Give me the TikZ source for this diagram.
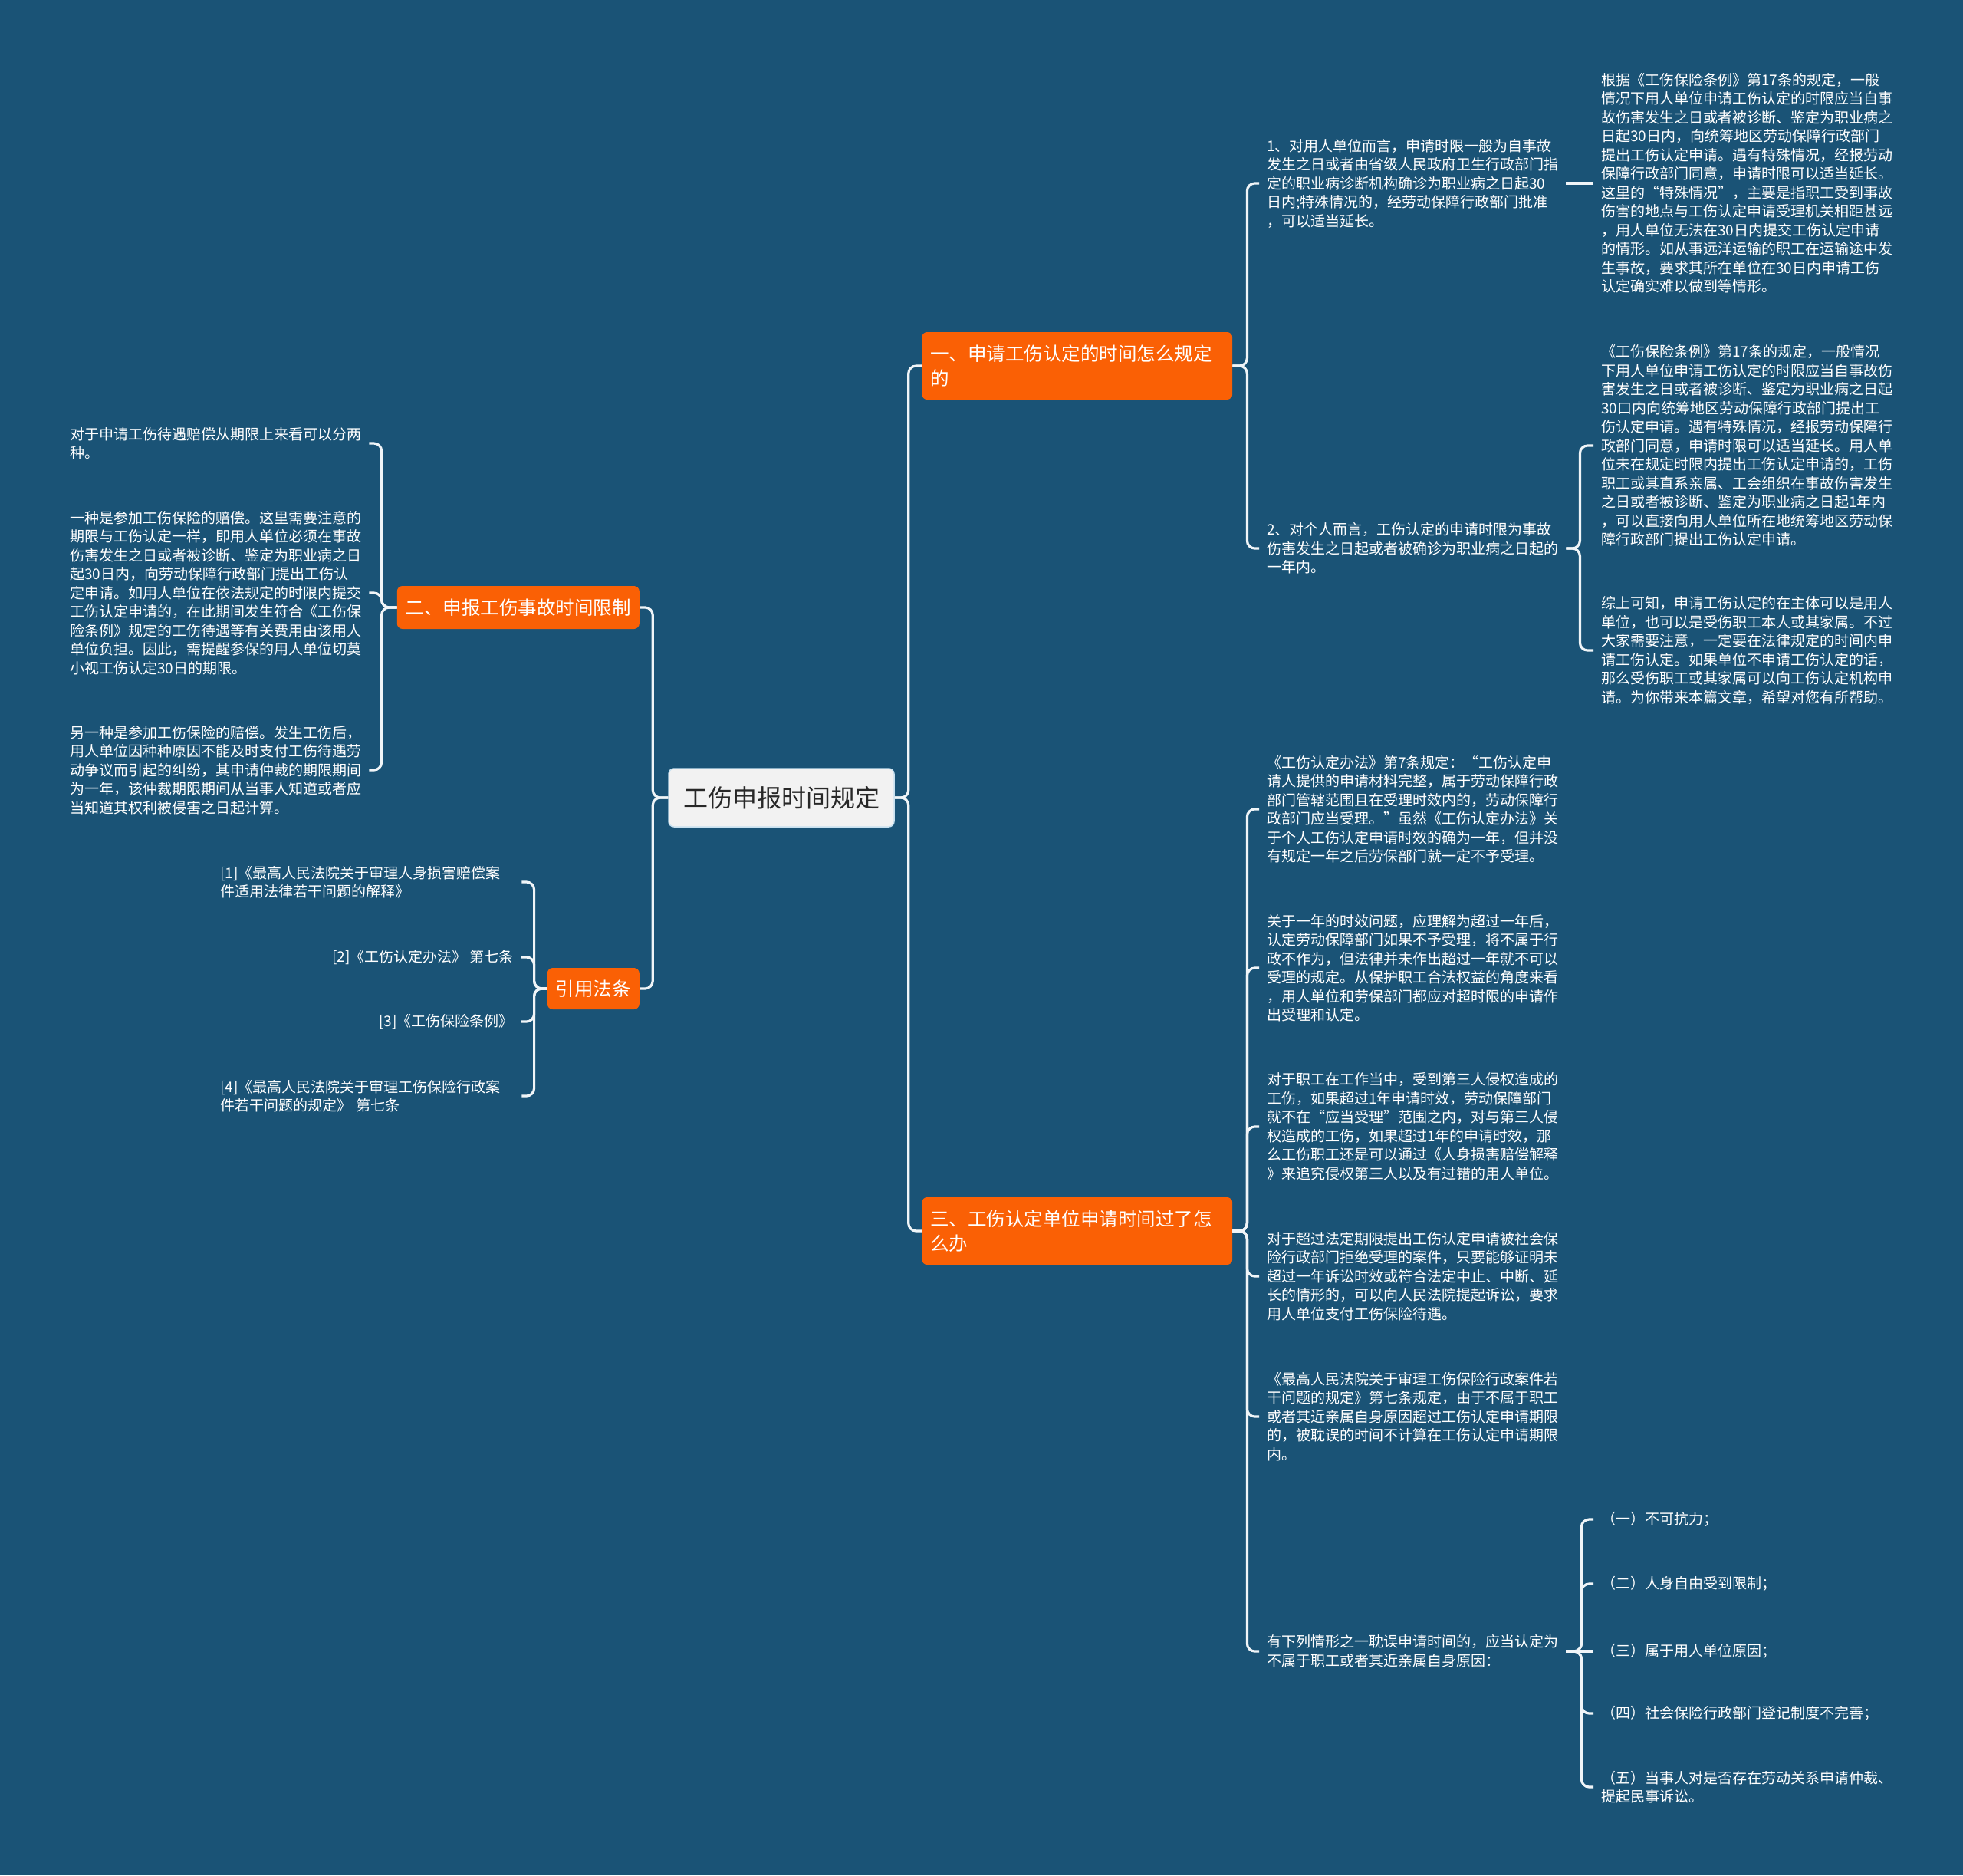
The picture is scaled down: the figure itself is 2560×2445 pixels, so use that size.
\documentclass[tikz,border=0pt]{standalone}
\usepackage{fontspec}
\newfontfamily\cjk{Noto Sans CJK SC}
\definecolor{bg}{RGB}{26,83,118}
\definecolor{brorange}{RGB}{250,96,5}
\definecolor{rootfill}{RGB}{242,242,242}
\definecolor{roottext}{RGB}{40,40,40}
\definecolor{rootline}{RGB}{200,225,240}
\definecolor{lineclr}{RGB}{240,245,248}
\begin{document}
\begin{tikzpicture}[x=1pt,y=-1pt,
  conn/.style={draw=lineclr, line width=3.2pt, rounded corners=10pt},
  leaftext/.style={font=\cjk\fontsize{19}{24.5}\selectfont, text=white, align=left, inner xsep=10pt, inner ysep=2pt},
  brbox/.style={fill=brorange, rounded corners=7pt, text=white, font=\cjk\fontsize{24.5}{32}\selectfont, align=left, inner xsep=11pt, inner ysep=0pt},
  rootbox/.style={fill=rootfill, draw=rootline, line width=1.5pt, rounded corners=7pt, text=roottext, font=\cjk\fontsize{32}{38}\selectfont, minimum width=294pt, minimum height=76pt, inner sep=0pt}]
\fill[bg] (0,0) rectangle (2560,2445);
\useasboundingbox (0,0) rectangle (2560,2445);

% root and branches
\node[rootbox] (root) at (1019,1040) {工伤申报时间规定};
\node[brbox, text width=383pt, minimum height=88pt, anchor=west] (b1) at (1202,477) {一、申请工伤认定的时间怎么规定\\的};
\node[brbox, text width=383pt, minimum height=88pt, anchor=west] (b3) at (1202,1605) {三、工伤认定单位申请时间过了怎\\么办};
\node[brbox, minimum height=56pt, anchor=east] (b2) at (834,792) {二、申报工伤事故时间限制};
\node[brbox, minimum height=54pt, anchor=east] (b4) at (834,1289) {引用法条};

% branch 1 leaves
\node[leaftext, anchor=west] (c1a) at (1642,239) {1、对用人单位而言，申请时限一般为自事故\\发生之日或者由省级人民政府卫生行政部门指\\定的职业病诊断机构确诊为职业病之日起30\\日内;特殊情况的，经劳动保障行政部门批准\\，可以适当延长。};
\node[leaftext, anchor=west] (r1a) at (2078,239) {根据《工伤保险条例》第17条的规定，一般\\情况下用人单位申请工伤认定的时限应当自事\\故伤害发生之日或者被诊断、鉴定为职业病之\\日起30日内，向统筹地区劳动保障行政部门\\提出工伤认定申请。遇有特殊情况，经报劳动\\保障行政部门同意，申请时限可以适当延长。\\这里的“特殊情况”，主要是指职工受到事故\\伤害的地点与工伤认定申请受理机关相距甚远\\，用人单位无法在30日内提交工伤认定申请\\的情形。如从事远洋运输的职工在运输途中发\\生事故，要求其所在单位在30日内申请工伤\\认定确实难以做到等情形。};
\node[leaftext, anchor=west] (c1b) at (1642,715) {2、对个人而言，工伤认定的申请时限为事故\\伤害发生之日起或者被确诊为职业病之日起的\\一年内。};
\node[leaftext, anchor=west] (r1b1) at (2078,581) {《工伤保险条例》第17条的规定，一般情况\\下用人单位申请工伤认定的时限应当自事故伤\\害发生之日或者被诊断、鉴定为职业病之日起\\30口内向统筹地区劳动保障行政部门提出工\\伤认定申请。遇有特殊情况，经报劳动保障行\\政部门同意，申请时限可以适当延长。用人单\\位未在规定时限内提出工伤认定申请的，工伤\\职工或其直系亲属、工会组织在事故伤害发生\\之日或者被诊断、鉴定为职业病之日起1年内\\，可以直接向用人单位所在地统筹地区劳动保\\障行政部门提出工伤认定申请。};
\node[leaftext, anchor=west] (r1b2) at (2078,848) {综上可知，申请工伤认定的在主体可以是用人\\单位，也可以是受伤职工本人或其家属。不过\\大家需要注意，一定要在法律规定的时间内申\\请工伤认定。如果单位不申请工伤认定的话，\\那么受伤职工或其家属可以向工伤认定机构申\\请。为你带来本篇文章，希望对您有所帮助。};

% branch 3 leaves
\node[leaftext, anchor=west] (c3a) at (1642,1055) {《工伤认定办法》第7条规定：“工伤认定申\\请人提供的申请材料完整，属于劳动保障行政\\部门管辖范围且在受理时效内的，劳动保障行\\政部门应当受理。”虽然《工伤认定办法》关\\于个人工伤认定申请时效的确为一年，但并没\\有规定一年之后劳保部门就一定不予受理。};
\node[leaftext, anchor=west] (c3b) at (1642,1262) {关于一年的时效问题，应理解为超过一年后，\\认定劳动保障部门如果不予受理，将不属于行\\政不作为，但法律并未作出超过一年就不可以\\受理的规定。从保护职工合法权益的角度来看\\，用人单位和劳保部门都应对超时限的申请作\\出受理和认定。};
\node[leaftext, anchor=west] (c3c) at (1642,1469) {对于职工在工作当中，受到第三人侵权造成的\\工伤，如果超过1年申请时效，劳动保障部门\\就不在“应当受理”范围之内，对与第三人侵\\权造成的工伤，如果超过1年的申请时效，那\\么工伤职工还是可以通过《人身损害赔偿解释\\》来追究侵权第三人以及有过错的用人单位。};
\node[leaftext, anchor=west] (c3d) at (1642,1664) {对于超过法定期限提出工伤认定申请被社会保\\险行政部门拒绝受理的案件，只要能够证明未\\超过一年诉讼时效或符合法定中止、中断、延\\长的情形的，可以向人民法院提起诉讼，要求\\用人单位支付工伤保险待遇。};
\node[leaftext, anchor=west] (c3e) at (1642,1847) {《最高人民法院关于审理工伤保险行政案件若\\干问题的规定》第七条规定，由于不属于职工\\或者其近亲属自身原因超过工伤认定申请期限\\的，被耽误的时间不计算在工伤认定申请期限\\内。};
\node[leaftext, anchor=west] (c3f) at (1642,2153) {有下列情形之一耽误申请时间的，应当认定为\\不属于职工或者其近亲属自身原因：};
\node[leaftext, anchor=west] (l1) at (2078,1981) {（一）不可抗力；};
\node[leaftext, anchor=west] (l2) at (2078,2065) {（二）人身自由受到限制；};
\node[leaftext, anchor=west] (l3) at (2078,2153) {（三）属于用人单位原因；};
\node[leaftext, anchor=west] (l4) at (2078,2234) {（四）社会保险行政部门登记制度不完善；};
\node[leaftext, anchor=west] (l5) at (2078,2330) {（五）当事人对是否存在劳动关系申请仲裁、\\提起民事诉讼。};

% branch 2 leaves
\node[leaftext, anchor=west] (c2a) at (81,578) {对于申请工伤待遇赔偿从期限上来看可以分两\\种。};
\node[leaftext, anchor=west] (c2b) at (81,773) {一种是参加工伤保险的赔偿。这里需要注意的\\期限与工伤认定一样，即用人单位必须在事故\\伤害发生之日或者被诊断、鉴定为职业病之日\\起30日内，向劳动保障行政部门提出工伤认\\定申请。如用人单位在依法规定的时限内提交\\工伤认定申请的，在此期间发生符合《工伤保\\险条例》规定的工伤待遇等有关费用由该用人\\单位负担。因此，需提醒参保的用人单位切莫\\小视工伤认定30日的期限。};
\node[leaftext, anchor=west] (c2c) at (81,1004) {另一种是参加工伤保险的赔偿。发生工伤后，\\用人单位因种种原因不能及时支付工伤待遇劳\\动争议而引起的纠纷，其申请仲裁的期限期间\\为一年，该仲裁期限期间从当事人知道或者应\\当知道其权利被侵害之日起计算。};

% branch 4 leaves
\node[leaftext, text width=383pt, anchor=west] (f1) at (277,1150) {[1]《最高人民法院关于审理人身损害赔偿案\\件适用法律若干问题的解释》};
\node[leaftext, anchor=east] (f2) at (680,1248) {[2]《工伤认定办法》 第七条};
\node[leaftext, anchor=east] (f3) at (680,1332) {[3]《工伤保险条例》};
\node[leaftext, text width=383pt, anchor=west] (f4) at (277,1429) {[4]《最高人民法院关于审理工伤保险行政案\\件若干问题的规定》 第七条};

% connectors
\draw[conn] (root.east) -- ++(18,0) |- (b1.west);
\draw[conn] (root.east) -- ++(18,0) |- (b3.west);
\draw[conn] (root.west) -- ++(-20,0) |- (b2.east);
\draw[conn] (root.west) -- ++(-20,0) |- (b4.east);

\draw[conn] (b1.east) -- ++(19,0) |- (c1a.west);
\draw[conn] (b1.east) -- ++(19,0) |- (c1b.west);
\draw[conn] (c1a.east) -- (r1a.west);
\draw[conn] (c1b.east) -- ++(18,0) |- (r1b1.west);
\draw[conn] (c1b.east) -- ++(18,0) |- (r1b2.west);

\foreach \n in {c3a,c3b,c3c,c3d,c3e,c3f}
  \draw[conn] (b3.east) -- ++(19,0) |- (\n.west);
\foreach \n in {l1,l2,l4,l5}
  \draw[conn] (c3f.east) -- ++(20,0) |- (\n.west);
\draw[conn] (c3f.east) -- (l3.west);

\foreach \n in {c2a,c2b,c2c}
  \draw[conn] (b2.west) -- ++(-20,0) |- (\n.east);
\foreach \n in {f1,f2,f3,f4}
  \draw[conn] (b4.west) -- ++(-17,0) |- (\n.east);
\end{tikzpicture}
\end{document}
